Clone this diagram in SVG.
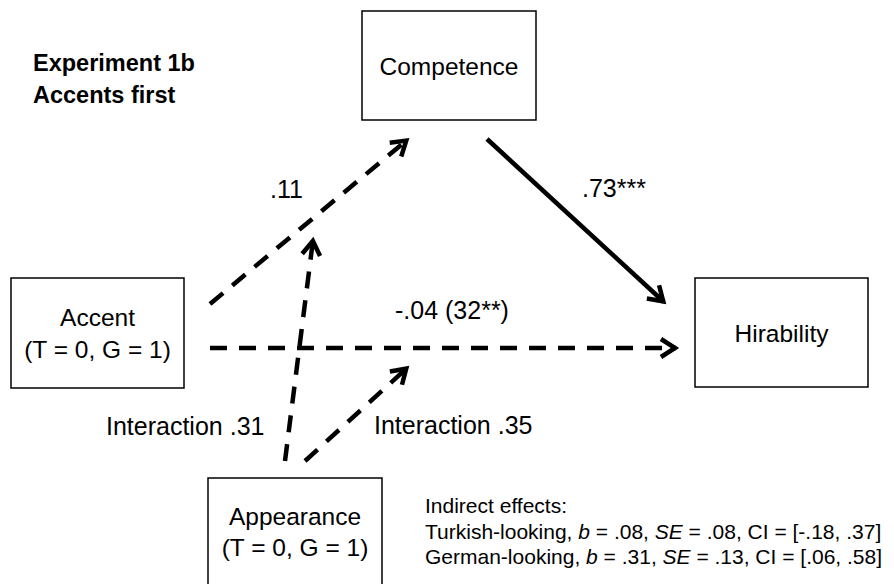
<svg xmlns="http://www.w3.org/2000/svg" width="894" height="584" viewBox="0 0 894 584">
<style>
text{font-family:"Liberation Sans",Arial,sans-serif;fill:#000}
.lbl{font-size:25px}
.node rect{fill:#fff;stroke:#000;stroke-width:1.5}
.node text{font-size:24.5px;text-anchor:middle}
.title{font-size:23.5px;font-weight:bold}
.small{font-size:21px}
.conn{fill:none;stroke:#000;stroke-width:4.5}
.dash{stroke-dasharray:17 12}
</style>
<defs>
<marker id="arr" viewBox="-20 -12 24 24" refX="0" refY="0" markerWidth="24" markerHeight="24" markerUnits="userSpaceOnUse" orient="auto">
<path d="M-15,-9 L-1,0 L-15,9" fill="none" stroke="#000" stroke-width="4.5"/>
</marker>
</defs>
<rect width="894" height="584" fill="#fff"/>
<text class="title" x="33" y="71">Experiment 1b</text>
<text class="title" x="33" y="103">Accents first</text>
<g id="competence" class="node">
<rect x="362" y="11" width="174" height="109"/>
<text x="449" y="75">Competence</text>
</g>
<g id="hirability" class="node">
<rect x="695" y="278" width="173" height="109"/>
<text x="781.5" y="342">Hirability</text>
</g>
<g id="accent" class="node">
<rect x="11" y="278" width="173" height="110"/>
<text x="97.5" y="326">Accent</text>
<text x="97.5" y="358">(T = 0, G = 1)</text>
</g>
<g id="appearance" class="node">
<rect x="208" y="478" width="174" height="120"/>
<text x="295" y="525">Appearance</text>
<text x="295" y="556">(T = 0, G = 1)</text>
</g>
<g id="connectors">
<line class="conn dash" x1="210" y1="304" x2="407" y2="140" marker-end="url(#arr)"/>
<line class="conn" x1="487" y1="139" x2="664" y2="302" marker-end="url(#arr)"/>
<line class="conn dash" x1="210" y1="348" x2="676" y2="348" marker-end="url(#arr)"/>
<line class="conn dash" x1="285" y1="461" x2="313" y2="240" marker-end="url(#arr)"/>
<line class="conn dash" x1="305" y1="461" x2="407" y2="368" marker-end="url(#arr)"/>
</g>
<text class="lbl" x="270" y="198">.11</text>
<text class="lbl" x="582" y="197">.73***</text>
<text class="lbl" x="395" y="319">-.04 (32**)</text>
<text class="lbl" x="106" y="435">Interaction .31</text>
<text class="lbl" x="374" y="434">Interaction .35</text>
<text class="small" x="425" y="513">Indirect effects:</text>
<text class="small" x="425" y="539">Turkish-looking, <tspan font-style="italic">b</tspan> = .08, <tspan font-style="italic">SE</tspan> = .08, CI = [-.18, .37]</text>
<text class="small" x="425" y="564">German-looking, <tspan font-style="italic">b</tspan> = .31, <tspan font-style="italic">SE</tspan> = .13, CI = [.06, .58]</text>
</svg>
